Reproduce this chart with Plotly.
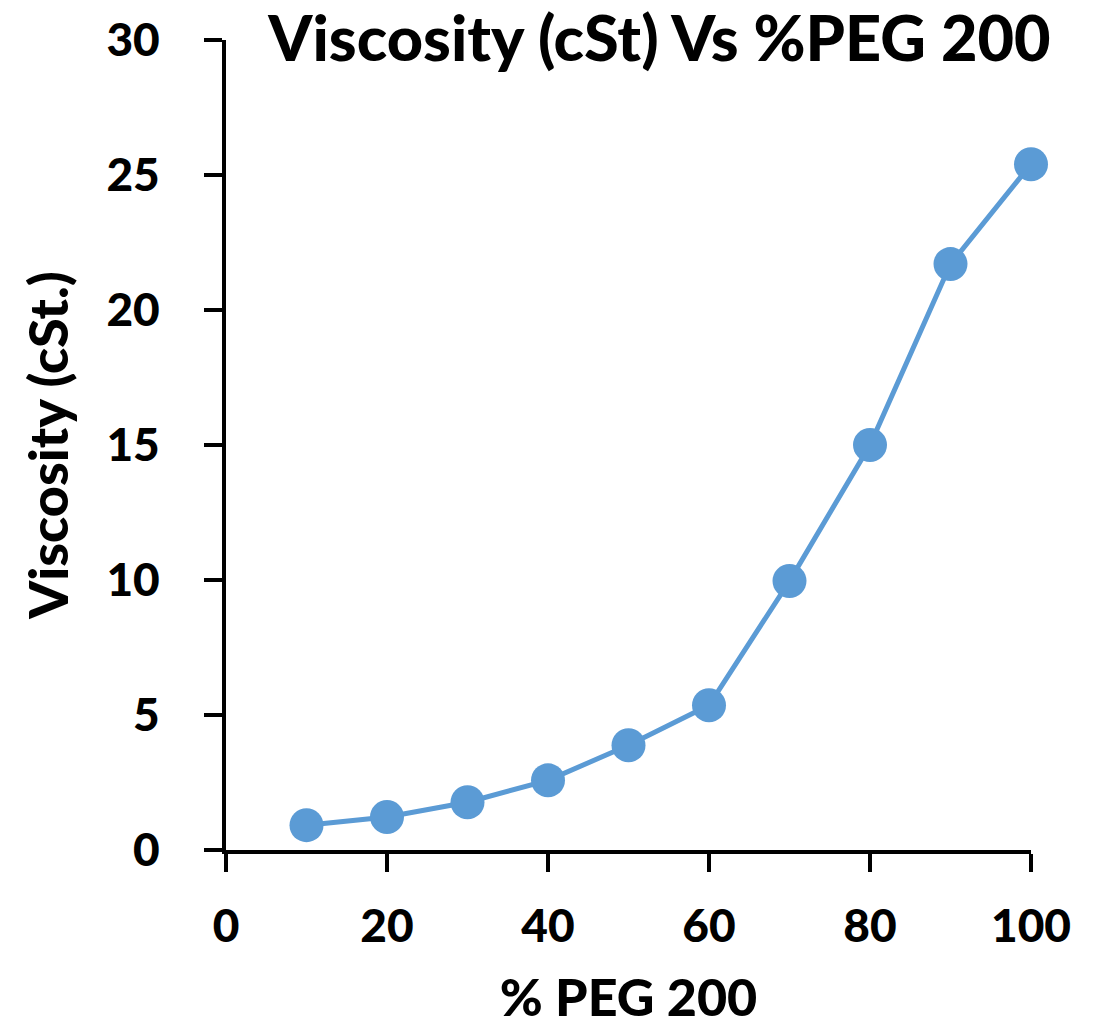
import plotly.graph_objects as go

peg_percent = [10, 20, 30, 40, 50, 60, 70, 80, 90, 100]
viscosity_cst = [0.92, 1.22, 1.77, 2.58, 3.88, 5.36, 9.96, 15.0, 21.7, 25.4]

x_ticks = [0, 20, 40, 60, 80, 100]
y_ticks = [0, 5, 10, 15, 20, 25, 30]

FONT = "Lato"
COLOR = "#5B9BD5"

fig = go.Figure()
fig.add_trace(go.Scatter(
    x=peg_percent, y=viscosity_cst, mode="lines+markers",
    line=dict(color=COLOR, width=5),
    marker=dict(color=COLOR, size=34),
    cliponaxis=False,
    showlegend=False,
))

fig.update_layout(
    width=1099, height=1027,
    paper_bgcolor="white", plot_bgcolor="white",
    margin=dict(l=226, r=68, t=40, b=177, autoexpand=False),
    font=dict(family=FONT, color="black", size=44, weight=900),
    title=dict(text="Viscosity (cSt) Vs %PEG 200", x=0.6, xanchor="center",
               y=0.962, yref="container", yanchor="middle",
               font=dict(family=FONT, size=63, color="black", weight=900)),
    xaxis=dict(range=[0, 100], tickvals=x_ticks, ticktext=[str(v) for v in x_ticks],
               showgrid=False, zeroline=False, showline=True, linecolor="black", linewidth=4,
               ticks="outside", ticklen=18, tickwidth=4, tickcolor="black",
               ticklabelstandoff=15,
               tickfont=dict(size=46, weight=900),
               title=dict(text="% PEG 200", font=dict(size=52, weight=900), standoff=30)),
    yaxis=dict(range=[0, 30], tickvals=y_ticks, ticktext=[str(v) for v in y_ticks],
               showgrid=False, zeroline=False, showline=True, linecolor="black", linewidth=4,
               ticks="outside", ticklen=18, tickwidth=4, tickcolor="black",
               ticklabelstandoff=35,
               tickfont=dict(size=46, weight=900),
               title=dict(text="Viscosity (cSt.)", font=dict(size=54, weight=900), standoff=22)),
)

fig.write_html("out.html")
